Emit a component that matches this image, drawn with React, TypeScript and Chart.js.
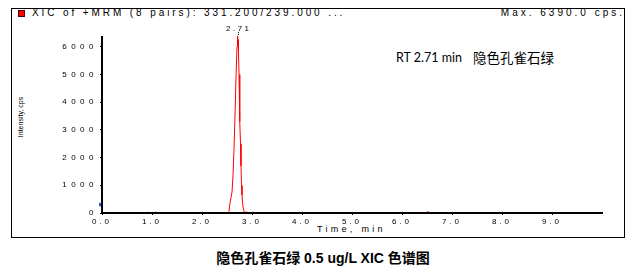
import React, { useEffect, useRef } from "react";
import { Chart, registerables } from "chart.js";

Chart.register(...registerables);

// Retention time (min) and intensity (cps)
const times = [0, 0.9, 0.91, 0.92, 1.05, 1.06, 1.07, 2.52, 2.54, 2.56, 2.58, 2.6, 2.62, 2.64, 2.66, 2.68, 2.7, 2.71, 2.72, 2.73, 2.74, 2.75, 2.76, 2.77, 2.78, 2.79, 2.8, 2.81, 2.82, 2.84, 2.86, 2.88, 2.9, 3.01, 3.02, 3.03, 6.5, 6.51, 6.52, 10];
const intensities = [0, 0, 40, 0, 0, 40, 0, 0, 60, 380, 550, 750, 1350, 2300, 3500, 4900, 6000, 6390, 6250, 5800, 5000, 4100, 3300, 2500, 1700, 1000, 650, 400, 220, 60, 0, 50, 0, 0, 40, 0, 0, 60, 0, 0];

// blue start marker
const markerTimes = [-0.03];
const markerValues = [300];

const xTickValues = [0, 1, 2, 3, 4, 5, 6, 7, 8, 9];
const yTickValues = [0, 1000, 2000, 3000, 4000, 5000, 6000];

const xMin = 0;
const xMax = 10;
const yMin = 0;
const yMax = 6350;

const headerText = "XIC of +MRM (8 pairs): 331.200/239.000 ...";
const maxText = "Max. 6390.0 cps.";
const xTitle = "Time, min";
const yTitle = "Intensity, cps";
const rtText = "RT 2.71 min";
const compoundText = "隐色孔雀石绿";
const captionText = "隐色孔雀石绿 0.5 ug/L XIC 色谱图";

const peakPlugin = {
  id: "peakPlugin",
  beforeDraw(chart: any) {
    chart.ctx.letterSpacing = "4.5px";
  },
  afterDatasetsDraw(chart: any) {
    const ctx = chart.ctx;
    const xs = chart.scales.x;
    const ys = chart.scales.y;
    let mi = 0;
    intensities.forEach((v, i) => {
      if (v > intensities[mi]) mi = i;
    });
    const px = xs.getPixelForValue(times[mi]);
    const py = ys.getPixelForValue(intensities[mi]);
    ctx.save();
    ctx.letterSpacing = "2.5px";
    ctx.font = '8px "Liberation Sans"';
    ctx.fillStyle = "#000";
    ctx.textAlign = "center";
    ctx.textBaseline = "alphabetic";
    ctx.fillText(times[mi].toFixed(2), px + 1.25, py - 5);
    ctx.strokeStyle = "#000";
    ctx.lineWidth = 1;
    ctx.setLineDash([1, 1]);
    ctx.beginPath();
    ctx.moveTo(Math.round(px) + 0.5, py - 4);
    ctx.lineTo(Math.round(px) + 0.5, py);
    ctx.stroke();
    ctx.restore();
    ctx.letterSpacing = "3px";
  },
};

export default function App() {
  const canvasRef = useRef<HTMLCanvasElement | null>(null);

  useEffect(() => {
    if (!canvasRef.current) return;
    const chart = new Chart(canvasRef.current, {
      type: "line",
      data: {
        datasets: [
          {
            data: times.map((t, i) => ({ x: t, y: intensities[i] })),
            borderColor: "#ff0000",
            borderWidth: 1,
            pointRadius: 0,
            tension: 0,
            fill: false,
            clip: false,
          } as any,
          {
            data: markerTimes.map((t, i) => ({ x: t, y: markerValues[i] })),
            showLine: false,
            pointStyle: "triangle",
            rotation: 90,
            pointRadius: 2.5,
            pointBackgroundColor: "#1030c0",
            pointBorderColor: "#1030c0",
            pointBorderWidth: 0,
            clip: false,
          } as any,
        ],
      },
      options: {
        animation: false,
        responsive: false,
        maintainAspectRatio: false,
        layout: { padding: { left: 0, top: 37, right: 38, bottom: 0 } },
        plugins: { legend: { display: false }, tooltip: { enabled: false } },
        scales: {
          x: {
            type: "linear",
            min: xMin,
            max: xMax,
            afterFit(s: any) {
              s.height = 61;
            },
            afterBuildTicks(s: any) {
              s.ticks = xTickValues.map((v) => ({ value: v }));
            },
            grid: { display: true, drawOnChartArea: false, drawTicks: true, tickLength: 2, color: "#000", lineWidth: 1 },
            border: { display: true, color: "#000", width: 2, z: 1 },
            ticks: {
              z: 1,
              padding: 2,
              maxRotation: 0,
              autoSkip: false,
              color: "#000",
              font: { family: "Liberation Sans", size: 8 },
              callback: (v: any) => Number(v).toFixed(1),
            },
          },
          y: {
            type: "linear",
            min: yMin,
            max: yMax,
            afterFit(s: any) {
              s.width = 102;
            },
            afterBuildTicks(s: any) {
              s.ticks = yTickValues.map((v) => ({ value: v }));
            },
            grid: { display: true, drawOnChartArea: false, drawTicks: true, tickLength: 2, color: "#000", lineWidth: 1 },
            border: { display: true, color: "#000", width: 2, z: 1 },
            ticks: {
              padding: 2,
              autoSkip: false,
              color: "#000",
              font: { family: "Liberation Sans", size: 8 },
              callback: (v: any) => String(v),
            },
          },
        },
      } as any,
      plugins: [peakPlugin],
    });
    return () => chart.destroy();
  }, []);

  const sans = '"Liberation Sans", Arial, sans-serif';
  return (
    <div style={{ position: "fixed", left: 0, top: 0, width: 640, height: 274, background: "#fff", overflow: "hidden" }}>
      <div style={{ position: "absolute", left: 11, top: 8, width: 614, height: 230, border: "1px solid #000", boxSizing: "border-box" }} />
      <div style={{ position: "absolute", left: 18, top: 10, width: 7, height: 7, background: "#ff0000", border: "1px solid #400", boxSizing: "border-box" }} />
      <div style={{ position: "absolute", left: 32, top: 8, font: `10px ${sans}`, lineHeight: "10px", letterSpacing: "2.9px", whiteSpace: "nowrap", color: "#000" }}>{headerText}</div>
      <div style={{ position: "absolute", right: 15, top: 8, font: `10px ${sans}`, lineHeight: "10px", letterSpacing: "3px", whiteSpace: "nowrap", color: "#000" }}>{maxText}</div>
      <div style={{ position: "absolute", left: 317, top: 225, font: `9px ${sans}`, lineHeight: "9px", letterSpacing: "3.3px", whiteSpace: "nowrap", color: "#000" }}>{xTitle}</div>
      <div style={{ position: "absolute", left: 19.5, top: 116.5, transform: "translate(-50%, -50%) rotate(-90deg)", font: `7px ${sans}`, lineHeight: "7px", whiteSpace: "nowrap", color: "#000" }}>{yTitle}</div>
      <div style={{ position: "absolute", left: 396, top: 52, font: '12.5px Lato, "Liberation Sans", sans-serif', lineHeight: "12.5px", whiteSpace: "nowrap", color: "#000" }}>{rtText}</div>
      <div style={{ position: "absolute", left: 473, top: 51, font: '13.5px "Noto Sans CJK SC", sans-serif', lineHeight: "13.5px", whiteSpace: "nowrap", color: "#000" }}>{compoundText}</div>
      <div style={{ position: "absolute", left: 0, top: 251, width: 646, textAlign: "center", fontFamily: '"Liberation Sans", "Noto Sans CJK SC", sans-serif', fontWeight: "bold", fontSize: 14, lineHeight: "14px", whiteSpace: "nowrap", color: "#000" }}>
        {captionText}
      </div>
      <canvas ref={canvasRef} width={640} height={274} style={{ position: "absolute", left: 0, top: 0, width: 640, height: 274 }} />
    </div>
  );
}
